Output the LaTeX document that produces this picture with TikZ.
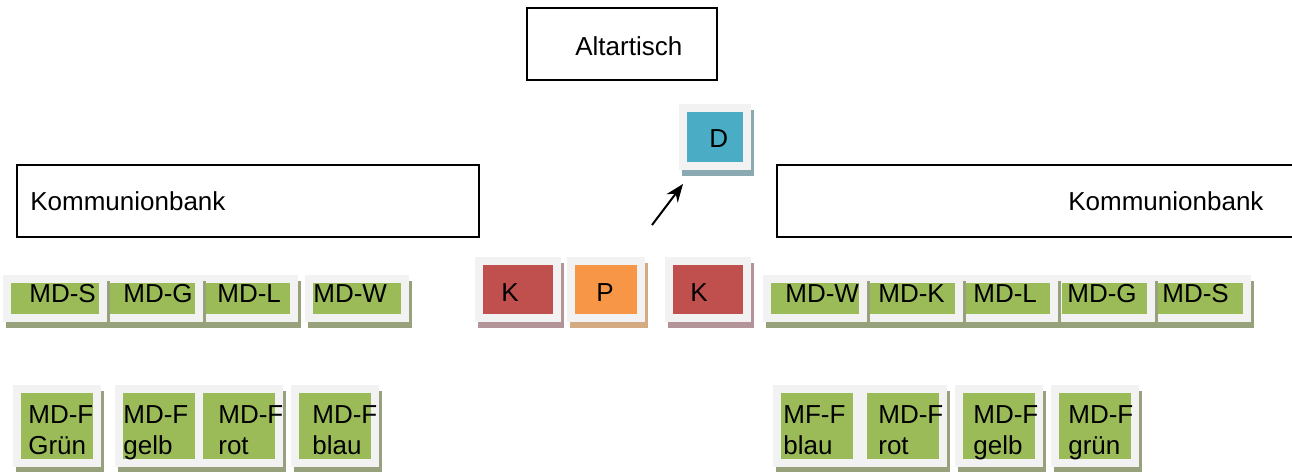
\documentclass[tikz,border=0pt]{standalone}
\usepackage{fontspec}
\setmainfont{Liberation Sans}
\usetikzlibrary{arrows.meta}

\definecolor{rahmen}{HTML}{F2F2F2}
\definecolor{gruen}{HTML}{9BBB59}
\definecolor{gruenS}{HTML}{97A17B}
\definecolor{rot}{HTML}{C0504D}
\definecolor{rotS}{HTML}{B39498}
\definecolor{orangeP}{HTML}{F79646}
\definecolor{orangePS}{HTML}{D3AA82}
\definecolor{blau}{HTML}{4BACC6}
\definecolor{blauS}{HTML}{8AA9B1}

\tikzset{
  platz/.style={fill=#1, draw=rahmen, line width=0.16cm, inner sep=0pt},
  schrift/.style={inner sep=0pt, align=left, font=\fontsize{14.8}{17.6}\selectfont},
  bank/.style={draw, line width=0.03cm, inner sep=0pt},
}

% name, colour, green area (left, top, right, bottom), text x, last baseline, text
\newcommand{\platz}[9]{%
  \fill[#2S] ({#3-5},{#4-2}) rectangle ({#5+11},{#6+14});
  \node[platz=#2, minimum width={(#5-#3+8)*0.02cm}, minimum height={(#6-#4+8)*0.02cm}]
    (#1) at ({(#3+#5)/2},{(#4+#6)/2}) {};
  \node[schrift, anchor=base west] (#1-text) at (#7,#8) {#9};
}

\begin{document}
\begin{tikzpicture}[x=0.02cm, y=-0.02cm]
  \useasboundingbox (0,0) rectangle (1292,471);

  % altar and communion rails
  \node[bank, minimum width=3.8cm, minimum height=1.44cm] (altar) at (622,44) {};
  \node[schrift, anchor=base west] (altar-text) at (575,55) {Altartisch};
  \node[bank, minimum width=9.24cm, minimum height=1.44cm] (bankL) at (248,201) {};
  \node[schrift, anchor=base west] (bankL-text) at (30,210) {Kommunionbank};
  \node[bank, minimum width=10.8cm, minimum height=1.44cm] (bankR) at (1047,201) {};
  \node[schrift, anchor=base west] (bankR-text) at (1068,210) {Kommunionbank};

  \platz{D}{blau}{687}{112}{743}{162}{709}{147}{D}

  \platz{K1}{rot}{483}{265}{553}{314}{501}{301}{K}
  \platz{P}{orangeP}{575}{265}{637}{314}{596}{301}{P}
  \platz{K2}{rot}{673}{265}{743}{314}{690}{301}{K}

  % upper row, left side
  \platz{lW}{gruen}{313}{283}{401}{314}{313}{302}{MD-W}
  \platz{lL}{gruen}{205}{283}{290}{314}{217}{302}{MD-L}
  \platz{lG}{gruen}{110}{283}{195}{314}{123}{302}{MD-G}
  \platz{lS}{gruen}{11}{283}{99}{314}{29}{302}{MD-S}

  % upper row, right side
  \platz{rS}{gruen}{1158}{283}{1243}{314}{1162}{302}{MD-S}
  \platz{rG}{gruen}{1062}{283}{1147}{314}{1067}{302}{MD-G}
  \platz{rL}{gruen}{964}{283}{1050}{314}{973}{302}{MD-L}
  \platz{rK}{gruen}{870}{283}{955}{314}{878}{302}{MD-K}
  \platz{rW}{gruen}{771}{283}{859}{314}{785}{302}{MD-W}

  % lower row, left side
  \platz{fGr}{gruen}{21}{393}{93}{459}{28}{454}{MD-F\\Grün}
  \platz{fGe}{gruen}{123}{393}{195}{459}{123}{454}{MD-F\\gelb}
  \platz{fR}{gruen}{203}{393}{275}{459}{218}{454}{MD-F\\rot}
  \platz{fB}{gruen}{299}{393}{371}{459}{312}{454}{MD-F\\blau}

  % lower row, right side
  \platz{gB}{gruen}{781}{393}{853}{459}{783}{454}{MF-F\\blau}
  \platz{gR}{gruen}{867}{393}{939}{459}{878}{454}{MD-F\\rot}
  \platz{gGe}{gruen}{963}{393}{1035}{459}{973}{454}{MD-F\\gelb}
  \platz{gGr}{gruen}{1059}{393}{1131}{459}{1068}{454}{MD-F\\grün}

  \coordinate (pfeil) at (652,225);
  \draw[line width=0.04cm, -{Stealth[length=0.36cm, width=0.28cm]}] (pfeil) -- ([shift={(4,14)}]D.south west);
\end{tikzpicture}
\end{document}
